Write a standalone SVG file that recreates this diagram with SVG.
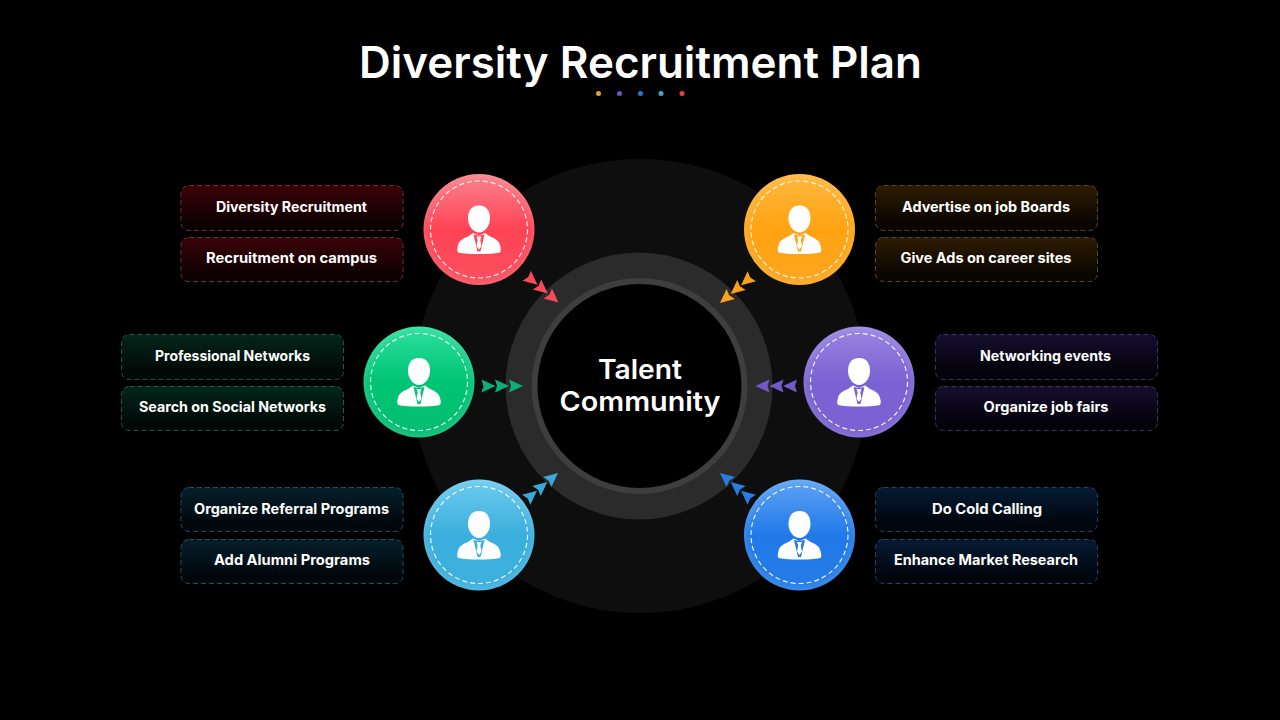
<svg xmlns="http://www.w3.org/2000/svg" width="1280" height="720" viewBox="0 0 1280 720">
<style>
text{font-family:Inter,"Open Sans","Liberation Sans",sans-serif;fill:#fff;text-anchor:middle}
.title{font-size:44px;font-weight:600}
.center{font-size:27px;font-weight:600}
.lbl{font-size:14px;font-weight:700}
.box{stroke-width:1;stroke-dasharray:5 3}
.dash{fill:none;stroke:#fff;stroke-opacity:.9;stroke-width:1.2;stroke-dasharray:5 3}
.wh{fill:#fff}
.gloss{fill:url(#gloss)}
.rim{fill:url(#rim)}
</style>
<defs>
<linearGradient id="gloss" x1="0" y1="0" x2="0" y2="1"><stop offset="0" stop-color="#fff" stop-opacity=".26"/><stop offset=".5" stop-color="#fff" stop-opacity=".02"/><stop offset="1" stop-color="#fff" stop-opacity="0"/></linearGradient>
<radialGradient id="rim"><stop offset=".86" stop-color="#fff" stop-opacity="0"/><stop offset="1" stop-color="#fff" stop-opacity=".1"/></radialGradient>
<linearGradient id="gr" x1="0" y1="0" x2="0" y2="1"><stop offset="0" stop-color="#f9838d"/><stop offset=".5" stop-color="#ff4355"/><stop offset="1" stop-color="#f9505f"/></linearGradient>
<linearGradient id="go" x1="0" y1="0" x2="0" y2="1"><stop offset="0" stop-color="#ffb83f"/><stop offset=".5" stop-color="#ffa312"/><stop offset="1" stop-color="#fca51e"/></linearGradient>
<linearGradient id="gg" x1="0" y1="0" x2="0" y2="1"><stop offset="0" stop-color="#2ee09e"/><stop offset=".5" stop-color="#00c474"/><stop offset="1" stop-color="#06bd72"/></linearGradient>
<linearGradient id="gp" x1="0" y1="0" x2="0" y2="1"><stop offset="0" stop-color="#9a86e2"/><stop offset=".5" stop-color="#7a62d2"/><stop offset="1" stop-color="#7a62d2"/></linearGradient>
<linearGradient id="gl" x1="0" y1="0" x2="0" y2="1"><stop offset="0" stop-color="#6ecbee"/><stop offset=".5" stop-color="#3aafdd"/><stop offset="1" stop-color="#3fb0dd"/></linearGradient>
<linearGradient id="gb" x1="0" y1="0" x2="0" y2="1"><stop offset="0" stop-color="#5fa3f5"/><stop offset=".5" stop-color="#2179e8"/><stop offset="1" stop-color="#267de8"/></linearGradient>
<linearGradient id="br" x1="0" y1="0" x2="0" y2="1"><stop offset="0" stop-color="#3a0207"/><stop offset=".85" stop-color="#0c0102"/></linearGradient>
<linearGradient id="bo" x1="0" y1="0" x2="0" y2="1"><stop offset="0" stop-color="#2e1c03"/><stop offset=".85" stop-color="#090501"/></linearGradient>
<linearGradient id="bg" x1="0" y1="0" x2="0" y2="1"><stop offset="0" stop-color="#04261a"/><stop offset=".85" stop-color="#010805"/></linearGradient>
<linearGradient id="bp" x1="0" y1="0" x2="0" y2="1"><stop offset="0" stop-color="#150e2e"/><stop offset=".85" stop-color="#040209"/></linearGradient>
<linearGradient id="bl" x1="0" y1="0" x2="0" y2="1"><stop offset="0" stop-color="#051f2b"/><stop offset=".85" stop-color="#01060a"/></linearGradient>
<linearGradient id="bb" x1="0" y1="0" x2="0" y2="1"><stop offset="0" stop-color="#051a33"/><stop offset=".85" stop-color="#01050c"/></linearGradient>
<g id="person">
<path class="wh" d="M0-24C8-24 11-18 11-11 11-4 6 3 0 3-6 3-11-4-11-11-11-18-8-24 0-24Z"/>
<path class="wh" d="M-21 23C-22 21-22 19-21 16-20 11-16 9-11 7L-6 3.500 0 6 6 3.500 11 7C16 9 20 11 21 16 22 19 22 21 21 23 10 25-10 25-21 23Z"/>
<path fill="currentColor" d="M-5.500 5 0 6 5.500 5 1.500 22H-1.500Z"/>
<path class="wh" d="M-2.500 7H2.500L1.300 10.500 2.500 16.500 0 20-2.500 16.500-1.300 10.500Z"/>
</g>
<polygon id="dart" points="0,0 -14,-6.500 -12,0 -14,6.500"/>
<g id="darts"><use href="#dart"/><use href="#dart" x="-14"/><use href="#dart" x="-27.500"/></g>
</defs>
<rect width="1280" height="720" fill="#000"/>
<g id="title">
<text class="title" x="640.500" y="78" textLength="563" lengthAdjust="spacingAndGlyphs">Diversity Recruitment Plan</text>
<circle cx="598.500" cy="93.500" r="2.500" fill="#f19a2e"/><circle cx="619.500" cy="93.500" r="2.500" fill="#6f55c2"/><circle cx="640.500" cy="93.500" r="2.500" fill="#2b73d6"/><circle cx="661" cy="93.500" r="2.500" fill="#3aa5d2"/><circle cx="682" cy="93.500" r="2.500" fill="#e8414f"/>
</g>
<g id="center">
<circle cx="640" cy="386" r="227" fill="#0e0e0e"/>
<circle cx="639" cy="386" r="133.500" fill="#2b2b2b"/>
<circle cx="639.500" cy="386" r="108" fill="#3e3e3e"/>
<circle cx="639.500" cy="386" r="102" fill="#000"/>
<text class="center" x="640" y="379" textLength="84" lengthAdjust="spacingAndGlyphs">Talent</text>
<text class="center" x="640" y="411" textLength="161" lengthAdjust="spacingAndGlyphs">Community</text>
</g>
<g id="connectors">
<use href="#darts" fill="#f44a59" transform="translate(558.500 302.500) rotate(40)"/>
<use href="#darts" fill="#fba21c" transform="translate(720 303) rotate(140)"/>
<use href="#darts" fill="#0fae76" transform="translate(523 386)"/>
<use href="#darts" fill="#7259c8" transform="translate(755.500 386) rotate(180)"/>
<use href="#darts" fill="#3aa8da" transform="translate(558 473) rotate(-40)"/>
<use href="#darts" fill="#267ee2" transform="translate(720 473) rotate(-140)"/>
</g>
<g id="node-red" color="#fd4a5a">
<circle cx="479" cy="229.500" r="55.500" fill="url(#gr)"/><circle class="rim" cx="479" cy="229.500" r="55.500"/><circle class="dash" cx="479" cy="229.500" r="48.500"/>
<use href="#person" x="479" y="229.500"/>
<rect class="box" x="181" y="185.500" width="222" height="45" rx="8" fill="url(#br)" stroke="#6e3038"/>
<text class="lbl" x="291.500" y="212" textLength="151" lengthAdjust="spacingAndGlyphs">Diversity Recruitment</text>
<rect class="box" x="181" y="237.500" width="222" height="44" rx="8" fill="url(#br)" stroke="#6e3038"/>
<text class="lbl" x="291.500" y="263" textLength="171" lengthAdjust="spacingAndGlyphs">Recruitment on campus</text>
</g>
<g id="node-orange" color="#ffa620">
<circle cx="799.500" cy="229.500" r="55.500" fill="url(#go)"/><circle class="rim" cx="799.500" cy="229.500" r="55.500"/><circle class="dash" cx="799.500" cy="229.500" r="48.500"/>
<use href="#person" x="799.500" y="229.500"/>
<rect class="box" x="875.500" y="185.500" width="222" height="45" rx="8" fill="url(#bo)" stroke="#5e4720"/>
<text class="lbl" x="986" y="212" textLength="168" lengthAdjust="spacingAndGlyphs">Advertise on job Boards</text>
<rect class="box" x="875.500" y="237.500" width="222" height="44" rx="8" fill="url(#bo)" stroke="#5e4720"/>
<text class="lbl" x="986" y="263" textLength="171" lengthAdjust="spacingAndGlyphs">Give Ads on career sites</text>
</g>
<g id="node-green" color="#02c474">
<circle cx="419" cy="382" r="55.500" fill="url(#gg)"/><circle class="rim" cx="419" cy="382" r="55.500"/><circle class="dash" cx="419" cy="382" r="48.500"/>
<use href="#person" x="419" y="382"/>
<rect class="box" x="121.500" y="334.500" width="222" height="45" rx="8" fill="url(#bg)" stroke="#1c5c46"/>
<text class="lbl" x="232.500" y="361" textLength="155" lengthAdjust="spacingAndGlyphs">Professional Networks</text>
<rect class="box" x="121.500" y="386.500" width="222" height="44" rx="8" fill="url(#bg)" stroke="#1c5c46"/>
<text class="lbl" x="232.500" y="412" textLength="187" lengthAdjust="spacingAndGlyphs">Search on Social Networks</text>
</g>
<g id="node-purple" color="#7c62d3">
<circle cx="859" cy="382" r="55.500" fill="url(#gp)"/><circle class="rim" cx="859" cy="382" r="55.500"/><circle class="dash" cx="859" cy="382" r="48.500"/>
<use href="#person" x="859" y="382"/>
<rect class="box" x="935.500" y="334.500" width="222" height="45" rx="8" fill="url(#bp)" stroke="#3a3262"/>
<text class="lbl" x="1045.500" y="361" textLength="131" lengthAdjust="spacingAndGlyphs">Networking events</text>
<rect class="box" x="935.500" y="386.500" width="222" height="44" rx="8" fill="url(#bp)" stroke="#3a3262"/>
<text class="lbl" x="1046" y="412" textLength="125" lengthAdjust="spacingAndGlyphs">Organize job fairs</text>
</g>
<g id="node-lightblue" color="#3db0dd">
<circle cx="479" cy="535" r="55.500" fill="url(#gl)"/><circle class="rim" cx="479" cy="535" r="55.500"/><circle class="dash" cx="479" cy="535" r="48.500"/>
<use href="#person" x="479" y="535"/>
<rect class="box" x="181" y="487.500" width="222" height="44" rx="8" fill="url(#bl)" stroke="#244f60"/>
<text class="lbl" x="291.500" y="514" textLength="195" lengthAdjust="spacingAndGlyphs">Organize Referral Programs</text>
<rect class="box" x="181" y="539.500" width="222" height="44" rx="8" fill="url(#bl)" stroke="#244f60"/>
<text class="lbl" x="292" y="565" textLength="156" lengthAdjust="spacingAndGlyphs">Add Alumni Programs</text>
</g>
<g id="node-blue" color="#247be8">
<circle cx="799.500" cy="535" r="55.500" fill="url(#gb)"/><circle class="rim" cx="799.500" cy="535" r="55.500"/><circle class="dash" cx="799.500" cy="535" r="48.500"/>
<use href="#person" x="799.500" y="535"/>
<rect class="box" x="875.500" y="487.500" width="222" height="44" rx="8" fill="url(#bb)" stroke="#2a3f6c"/>
<text class="lbl" x="987" y="514" textLength="110" lengthAdjust="spacingAndGlyphs">Do Cold Calling</text>
<rect class="box" x="875.500" y="539.500" width="222" height="44" rx="8" fill="url(#bb)" stroke="#2a3f6c"/>
<text class="lbl" x="986" y="565" textLength="184" lengthAdjust="spacingAndGlyphs">Enhance Market Research</text>
</g>
</svg>
